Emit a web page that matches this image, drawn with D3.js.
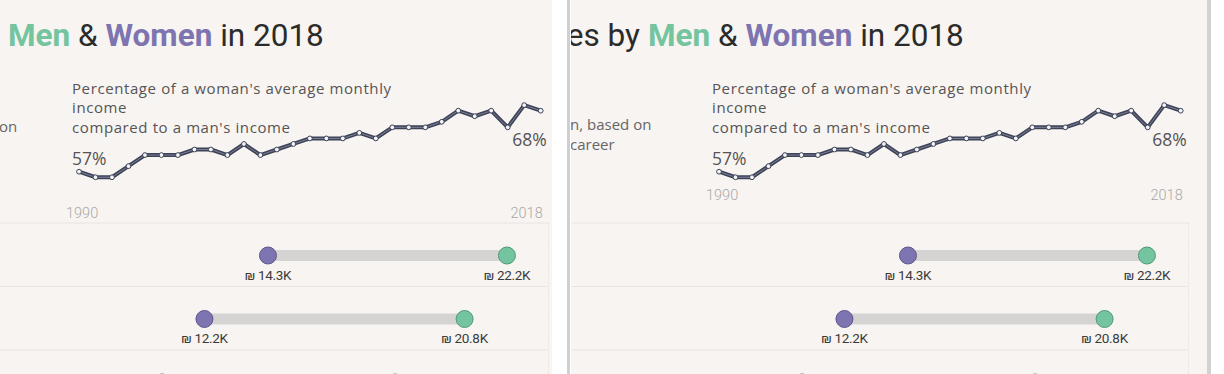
<!DOCTYPE html>
<html>
<head>
<meta charset="utf-8">
<script src="https://cdn.jsdelivr.net/npm/d3@7"></script>
<style>
  body { margin: 0; background: #ffffff; }
  svg { display: block; }
</style>
</head>
<body>
<div id="Area"></div>
<script>
// data
var years = d3.range(1990, 2019);
var womenPct = [57, 56, 56, 58, 60, 60, 60, 61, 61, 60, 62, 60, 61, 62, 63, 63, 63, 64, 63, 65,
                65, 65, 66, 68, 67, 68, 65, 69, 68];
var rows = ["row1", "row2", "row3"];
var womenIncome = [14.3, 12.2, 10.8];
var menIncome = [22.2, 20.8, 18.5];
var yearLabels = ["1990", "2018"];

var width = 1224, height = 374;
var green = "#74c4a0", purple = "#7d74b0", ink = "#3d4257";

var svg = d3.select("#Area").append("svg")
  .attr("width", width)
  .attr("height", height);

// both screenshots show the same dashboard, only cropped and wrapped differently
// (only the visible part of the cropped texts is kept)
var panels = [
  { id: "p1", dx: 0, left: -10, right: 552, yearY: 218, prefix: "",
    side: [{ t: "on", x: -1, y: 132 }] },
  { id: "p2", dx: 640, left: -69, right: 567, yearY: 200, prefix: "es by",
    side: [{ t: "n, based on", x: -70, y: 130 }, { t: "career", x: -70, y: 150 }] }
];

function draw(p) {
  var defs = svg.append("defs");
  defs.append("clipPath").attr("id", "clip-" + p.id)
    .append("rect")
    .attr("x", p.left).attr("y", 0)
    .attr("width", p.right - p.left).attr("height", height);

  var g = svg.append("g")
    .attr("transform", "translate(" + p.dx + ",0)")
    .attr("clip-path", "url(#clip-" + p.id + ")");

  g.append("rect")
    .attr("x", p.left).attr("y", 0)
    .attr("width", p.right - p.left).attr("height", height)
    .attr("fill", "#f8f4f1");

  // title
  var title = g.append("text")
    .attr("x", 8).attr("y", 46)
    .style("font-family", "Roboto")
    .style("font-size", "31.5px")
    .attr("fill", "#2b2b2b");
  title.append("tspan").attr("fill", green).style("font-weight", "bold").text("Men");
  title.append("tspan").text(" & ");
  title.append("tspan").attr("fill", purple).style("font-weight", "bold").text("Women");
  title.append("tspan").text(" in 2018");
  if (p.prefix) {
    g.append("text")
      .attr("x", 0).attr("y", 46)
      .attr("text-anchor", "end")
      .style("font-family", "Roboto")
      .style("font-size", "31.5px")
      .attr("fill", "#2b2b2b")
      .text(p.prefix);
  }

  // left column text, mostly cut off
  g.selectAll("text.side")
    .data(p.side)
    .enter().append("text")
    .attr("class", "side")
    .attr("x", function (d) { return d.x; })
    .attr("y", function (d) { return d.y; })
    .style("font-family", "Open Sans")
    .style("font-size", "15px")
    .attr("fill", "#666")
    .text(function (d) { return d.t; });

  // line chart
  var x = d3.scaleLinear().domain([1990, 2018]).range([79, 540.7]);
  var y = d3.scaleLinear().domain([55, 70]).range([182.8, 99.6]);

  var sub = g.append("text")
    .attr("x", 72)
    .style("font-family", "Open Sans")
    .style("font-size", "15px")
    .style("letter-spacing", "0.6px")
    .attr("fill", "#555");
  sub.append("tspan").attr("x", 72).attr("y", 94).text("Percentage of a woman's average monthly");
  sub.append("tspan").attr("x", 72).attr("y", 113).text("income");
  sub.append("tspan").attr("x", 72).attr("y", 133).text("compared to a man's income");

  var line = d3.line()
    .x(function (d, i) { return x(years[i]); })
    .y(function (d) { return y(d); });

  g.append("path").datum(womenPct)
    .attr("d", line)
    .attr("fill", "none")
    .attr("stroke", ink)
    .attr("stroke-width", 4)
    .attr("stroke-linejoin", "round");
  g.append("path").datum(womenPct)
    .attr("d", line)
    .attr("fill", "none")
    .attr("stroke", "#8c92a8")
    .attr("stroke-width", 0.8);
  g.selectAll("circle.pt")
    .data(womenPct)
    .enter().append("circle")
    .attr("class", "pt")
    .attr("cx", function (d, i) { return x(years[i]); })
    .attr("cy", function (d) { return y(d); })
    .attr("r", 2.4)
    .attr("fill", "#f4f4f6")
    .attr("stroke", ink)
    .attr("stroke-width", 1);

  g.append("text")
    .attr("x", x(1990) - 7).attr("y", y(womenPct[0]) - 7)
    .style("font-family", "Open Sans")
    .style("font-size", "17.5px")
    .attr("fill", "#555")
    .text(womenPct[0] + "%");
  g.append("text")
    .attr("x", x(2018) + 6).attr("y", y(womenPct[womenPct.length - 1]) + 35)
    .attr("text-anchor", "end")
    .style("font-family", "Open Sans")
    .style("font-size", "17.5px")
    .attr("fill", "#555")
    .text(womenPct[womenPct.length - 1] + "%");

  g.selectAll("text.yr")
    .data(yearLabels)
    .enter().append("text")
    .attr("class", "yr")
    .attr("x", function (d, i) { return i == 0 ? x(+d) - 13 : x(+d) + 2; })
    .attr("y", p.yearY)
    .attr("text-anchor", function (d, i) { return i == 0 ? "start" : "end"; })
    .style("font-family", "Roboto")
    .style("font-weight", "300")
    .style("font-size", "14.5px")
    .attr("fill", "#a8a8a8")
    .text(function (d) { return d; });

  // dumbbell rows
  var band = d3.scaleBand().domain(rows).range([222.5, 222.5 + 3 * 63.5]);
  var xs = d3.scaleLinear().domain([0, 25]).range([-164.6, 591.65]);

  g.selectAll("line.sep")
    .data(rows)
    .enter().append("line")
    .attr("class", "sep")
    .attr("x1", p.left).attr("x2", 548)
    .attr("y1", function (d) { return band(d) + 0.5; })
    .attr("y2", function (d) { return band(d) + 0.5; })
    .attr("stroke", "#e8e4e1");
  g.append("line")
    .attr("x1", 548.5).attr("x2", 548.5)
    .attr("y1", band.range()[0]).attr("y2", height)
    .attr("stroke", "#dcd8d5")
    .attr("stroke-dasharray", "1,2");

  var cy = function (d) { return band(d) + 33; };

  g.selectAll("rect.bar")
    .data(rows)
    .enter().append("rect")
    .attr("class", "bar")
    .attr("x", function (d, i) { return xs(womenIncome[i]); })
    .attr("y", function (d) { return cy(d) - 5.5; })
    .attr("width", function (d, i) { return xs(menIncome[i]) - xs(womenIncome[i]); })
    .attr("height", 11)
    .attr("fill", "#d6d4d3");

  g.selectAll("circle.w")
    .data(rows)
    .enter().append("circle")
    .attr("class", "w")
    .attr("cx", function (d, i) { return xs(womenIncome[i]); })
    .attr("cy", cy)
    .attr("r", 8.5)
    .attr("fill", purple)
    .attr("stroke", "#5d5690");
  g.selectAll("circle.m")
    .data(rows)
    .enter().append("circle")
    .attr("class", "m")
    .attr("cx", function (d, i) { return xs(menIncome[i]); })
    .attr("cy", cy)
    .attr("r", 8.5)
    .attr("fill", green)
    .attr("stroke", "#4c9a78");

  // value labels, only for rows whose labels fall inside the picture
  var shown = rows.filter(function (d) { return cy(d) + 24 < height; });
  var fmt = function (v) { return "\u20aa " + v.toFixed(1) + "K"; };
  [womenIncome, menIncome].forEach(function (vals) {
    g.selectAll(null)
      .data(shown)
      .enter().append("text")
      .attr("x", function (d) { return xs(vals[rows.indexOf(d)]); })
      .attr("y", function (d) { return cy(d) + 24; })
      .attr("text-anchor", "middle")
      .style("font-family", "Roboto")
      .style("font-size", "13.5px")
      .style("letter-spacing", "-0.3px")
      .attr("fill", "#3a3a3a")
      .text(function (d) { return fmt(vals[rows.indexOf(d)]); });
  });
}

panels.forEach(draw);

// panel edges
svg.append("rect").attr("x", 552).attr("y", 0).attr("width", 15).attr("height", height).attr("fill", "#ffffff");
svg.append("rect").attr("x", 567).attr("y", 0).attr("width", 3).attr("height", height).attr("fill", "#cfcfcf");
svg.append("rect").attr("x", 1207).attr("y", 0).attr("width", 4).attr("height", height).attr("fill", "#d2d2d2");
</script>
</body>
</html>
